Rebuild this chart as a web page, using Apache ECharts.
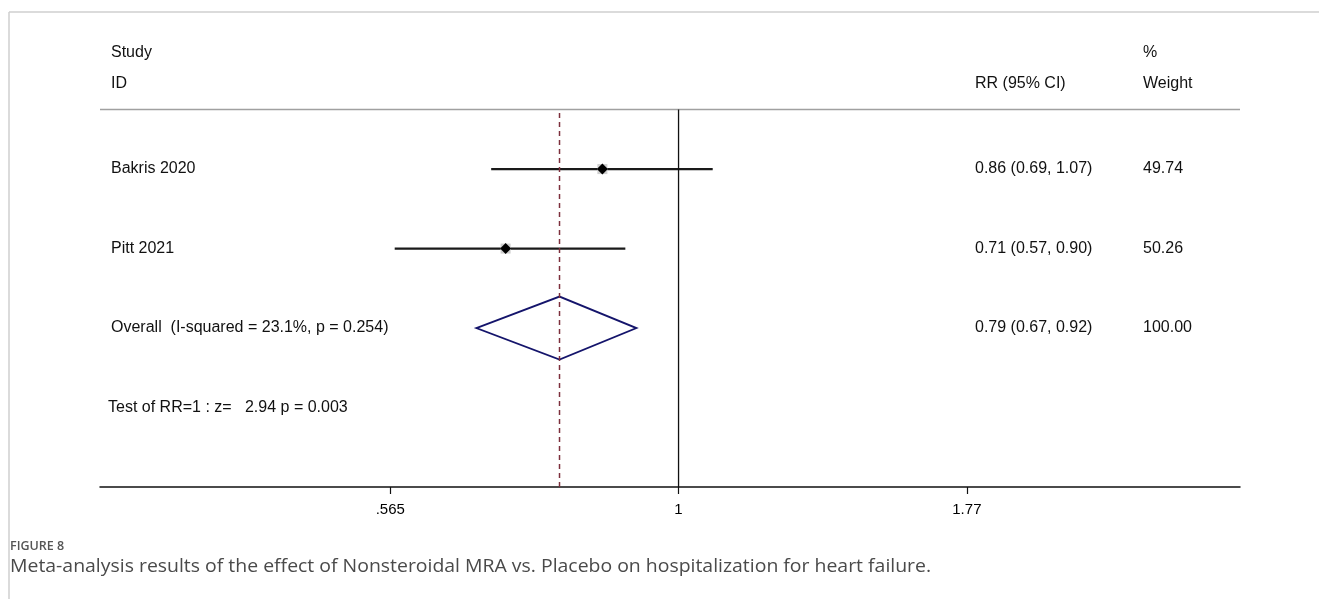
<!DOCTYPE html>
<html>
<head>
<meta charset="utf-8">
<script src="https://cdn.jsdelivr.net/npm/echarts@6/dist/echarts.min.js"></script>
<style>
html,body{margin:0;padding:0;background:#fff;}
#chart{width:1319px;height:599px;}
</style>
</head>
<body>
<div id="chart"></div>
<script>
// ---- data ----
const studies = ['Bakris 2020', 'Pitt 2021'];
const rr = [0.86, 0.71];
const ciLow = [0.69, 0.57];
const ciHigh = [1.07, 0.90];
const weights = ['49.74', '50.26'];
const overallLabel = 'Overall  (I-squared = 23.1%, p = 0.254)';
const overallRR = 0.79;
const overallLow = 0.67;
const overallHigh = 0.92;
const overallWeight = '100.00';
const testLabel = 'Test of RR=1 : z=   2.94 p = 0.003';
const headerLeft = ['Study', 'ID'];
const headerEst = 'RR (95% CI)';
const headerWeight = ['%', 'Weight'];
const tickValues = [0.565, 1, 1.77];
const tickLabels = ['.565', '1', '1.77'];
const axisRange = [0.318, 3.04];
const captionTitle = 'FIGURE 8';
const captionText = 'Meta-analysis results of the effect of Nonsteroidal MRA vs. Placebo on hospitalization for heart failure.';

// ---- layout ----
const n = studies.length;
const rowStudy = studies.map((s, i) => n + 2 - i);   // 4, 3
const rowOverall = 2;
const rowTest = 1;
const rowHeaderLine = 4.75;
const rowHead1 = 5.47;
const rowHead2 = 5.07;
const yMax = 5.75;
const colLeft = 11, colEst = 875, colWeight = 1043, colTest = 8;
const font = 'Liberation Sans, Arial, sans-serif';
const fs = 16;

const L = Math.log;
const fmt = (a, b, c) => a.toFixed(2) + ' (' + b.toFixed(2) + ', ' + c.toFixed(2) + ')';

// text rows
const textRows = [];
textRows.push({ y: rowHead1, cells: [[colLeft, headerLeft[0]], [colWeight, headerWeight[0]]] });
textRows.push({ y: rowHead2, cells: [[colLeft, headerLeft[1]], [colEst, headerEst], [colWeight, headerWeight[1]]] });
studies.forEach((s, i) => {
  textRows.push({ y: rowStudy[i], cells: [[colLeft, s], [colEst, fmt(rr[i], ciLow[i], ciHigh[i])], [colWeight, weights[i]]] });
});
textRows.push({ y: rowOverall, cells: [[colLeft, overallLabel], [colEst, fmt(overallRR, overallLow, overallHigh)], [colWeight, overallWeight]] });
textRows.push({ y: rowTest, cells: [[colTest, testLabel]] });

const chart = echarts.init(document.getElementById('chart'), null, { renderer: 'canvas' });

const option = {
  animation: false,
  backgroundColor: '#fff',
  grid: { left: 100, right: 79, top: 30, bottom: 112 },
  xAxis: {
    type: 'value',
    min: L(axisRange[0]),
    max: L(axisRange[1]),
    splitLine: { show: false },
    axisLine: { show: true, onZero: false, lineStyle: { color: '#111', width: 1.5 } },
    axisTick: { show: true, length: 7, lineStyle: { color: '#111', width: 1.2 }, customValues: tickValues.map(L) },
    axisLabel: {
      customValues: tickValues.map(L),
      margin: 15,
      fontFamily: font, fontSize: 15, color: '#000',
      formatter: v => {
        let best = 0, d = Infinity;
        tickValues.forEach((t, i) => { const dd = Math.abs(L(t) - v); if (dd < d) { d = dd; best = i; } });
        return tickLabels[best];
      }
    }
  },
  yAxis: { type: 'value', min: 0, max: yMax, show: false },
  series: [
    // header rule
    {
      type: 'line', silent: true, symbol: 'none',
      data: [[L(axisRange[0]), rowHeaderLine], [L(axisRange[1]), rowHeaderLine]],
      lineStyle: { color: '#a0a0a0', width: 1.5 }
    },
    // null line
    {
      type: 'line', silent: true, symbol: 'none',
      data: [[L(1), 0], [L(1), rowHeaderLine]],
      lineStyle: { color: '#111', width: 1.3 }
    },
    // overall dashed line
    {
      type: 'line', silent: true, symbol: 'none',
      data: [[L(overallRR), 0], [L(overallRR), rowHeaderLine]],
      lineStyle: { color: '#7d2f3c', width: 1.5, type: [5, 4] }
    },
    // study CIs with markers
    {
      type: 'custom', silent: true,
      data: studies.map((s, i) => [L(ciLow[i]), L(ciHigh[i]), L(rr[i]), rowStudy[i]]),
      renderItem: (params, api) => {
        const y = api.value(3);
        const p1 = api.coord([api.value(0), y]);
        const p2 = api.coord([api.value(1), y]);
        const c = api.coord([api.value(2), y]);
        const s = 5.5;
        return {
          type: 'group',
          children: [
            { type: 'line', shape: { x1: p1[0], y1: p1[1], x2: p2[0], y2: p2[1] }, style: { stroke: '#1a1a1a', lineWidth: 2.2 } },
            { type: 'rect', shape: { x: c[0] - 5, y: c[1] - 5, width: 10, height: 10 }, style: { fill: '#cfcfcf' } },
            { type: 'polygon', shape: { points: [[c[0] - s, c[1]], [c[0], c[1] - s], [c[0] + s, c[1]], [c[0], c[1] + s]] }, style: { fill: '#000' } }
          ]
        };
      }
    },
    // overall diamond
    {
      type: 'custom', silent: true,
      data: [[L(overallLow), L(overallHigh), L(overallRR), rowOverall]],
      renderItem: (params, api) => {
        const y = api.value(3);
        const a = api.coord([api.value(0), y]);
        const b = api.coord([api.value(1), y]);
        const c = api.coord([api.value(2), y]);
        const h = 31.5;
        return {
          type: 'polygon',
          shape: { points: [[a[0], a[1]], [c[0], c[1] - h], [b[0], b[1]], [c[0], c[1] + h]] },
          style: { fill: 'none', stroke: '#14146b', lineWidth: 1.8 }
        };
      }
    },
    // table text
    {
      type: 'custom', silent: true, clip: false,
      data: textRows.map((r, i) => [0, r.y, i]),
      renderItem: (params, api) => {
        const r = textRows[api.value(2)];
        const p = api.coord([0, api.value(1)]);
        const x0 = params.coordSys.x;
        return {
          type: 'group',
          children: r.cells.map(cell => ({
            type: 'text',
            style: {
              x: x0 + cell[0], y: p[1], text: cell[1],
              fill: '#111', font: fs + 'px ' + font,
              textAlign: 'left', textVerticalAlign: 'middle'
            }
          }))
        };
      }
    }
  ],
  graphic: [
    { type: 'line', shape: { x1: 9, y1: 12, x2: 1319, y2: 12 }, style: { stroke: '#cfcfcf', lineWidth: 1.5 } },
    { type: 'line', shape: { x1: 9, y1: 12, x2: 9, y2: 599 }, style: { stroke: '#cfcfcf', lineWidth: 1.5 } },
    { type: 'text', x: 10, y: 540, style: { text: captionTitle, font: '600 12.5px "Open Sans", sans-serif', fill: '#555' } },
    { type: 'text', x: 10, y: 558, scaleX: 1.11, style: { text: captionText, font: '17.5px "Open Sans", sans-serif', fill: '#4a4a4a' } }
  ]
};
chart.setOption(option);
</script>
</body>
</html>
